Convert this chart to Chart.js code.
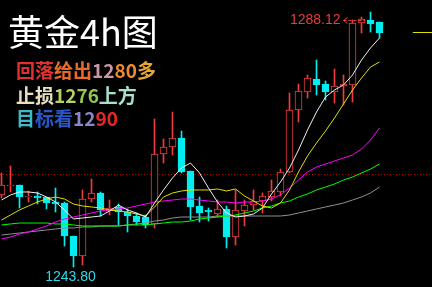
<!DOCTYPE html>
<html>
<head>
<meta charset="utf-8">
<script src="https://cdn.jsdelivr.net/npm/chart.js@4.4.1/dist/chart.umd.min.js"></script>
<style>
  html, body { margin: 0; padding: 0; background: #000; }
  #wrap { position: relative; width: 432px; height: 287px; overflow: hidden; }
  #chart { position: absolute; left: 0; top: 0; }
  #title { position: absolute; left: 8px; top: 12px; font-family: "Noto Sans CJK SC"; font-size: 36px; line-height: 36px; color: #fff; white-space: nowrap; }
  .note { position: absolute; left: 16px; font-family: "Noto Sans CJK SC"; font-size: 19px; line-height: 19px; font-weight: bold; white-space: nowrap; }
</style>
</head>
<body>
<div id="wrap">
  <canvas id="chart" width="432" height="287"></canvas>
  <div id="title">黄金4h图</div>
  <div class="note" style="top:60px"><span style="color:#e03030">回落</span><span style="color:#e86a28">给出</span><span style="color:#c898a8">12</span><span style="color:#f08a30">80</span><span style="color:#e8a838">多</span></div>
  <div class="note" style="top:85px"><span style="color:#e6e0c0">止损</span><span style="color:#b8d060">12</span><span style="color:#90c850">76</span><span style="color:#a8e0d0">上方</span></div>
  <div class="note" style="top:108px"><span style="color:#40b8c8">目</span><span style="color:#2858c8">标看</span><span style="color:#8888c8">12</span><span style="color:#e82828">90</span></div>
</div>
<script>
// 4h candles, oldest first
const opens = [1256.72, 1258.33, 1258.51, 1256.36, 1256.54, 1256.36, 1255.46, 1255.28, 1249.36, 1245.77,
  1256.00, 1257.08, 1253.85, 1254.57, 1253.67, 1252.95, 1252.77, 1251.52, 1264.08, 1265.33,
  1266.95, 1261.03, 1254.75, 1254.03, 1253.31, 1254.21, 1249.18, 1253.85, 1254.92, 1255.64,
  1256.36, 1257.26, 1260.85, 1271.97, 1275.20, 1277.53, 1276.64, 1275.20, 1276.28, 1276.46,
  1287.58, 1288.12, 1287.76];
const highs = [1260.67, 1261.92, 1258.51, 1257.44, 1257.26, 1256.36, 1257.97, 1255.46, 1249.36, 1257.62,
  1259.59, 1257.26, 1255.82, 1255.10, 1254.21, 1253.49, 1253.13, 1270.36, 1266.77, 1271.61,
  1268.20, 1261.03, 1256.36, 1254.39, 1255.82, 1254.75, 1257.62, 1255.82, 1257.62, 1257.08,
  1259.41, 1261.38, 1275.02, 1276.64, 1278.25, 1280.94, 1277.18, 1279.33, 1278.25, 1288.12,
  1288.66, 1289.56, 1287.76];
const lows = [1256.18, 1257.26, 1254.39, 1255.46, 1255.10, 1254.21, 1253.67, 1247.57, 1243.80, 1244.16,
  1255.46, 1252.95, 1253.13, 1251.34, 1250.08, 1251.34, 1250.80, 1250.80, 1262.46, 1263.90,
  1260.67, 1252.23, 1251.87, 1252.05, 1252.77, 1247.21, 1247.75, 1251.16, 1254.03, 1253.49,
  1255.64, 1256.54, 1260.67, 1269.82, 1274.12, 1274.66, 1273.77, 1273.23, 1272.87, 1273.41,
  1285.79, 1285.97, 1284.89];
const closes = [1258.51, 1258.51, 1256.36, 1256.54, 1256.18, 1255.28, 1255.10, 1249.36, 1245.77, 1256.00,
  1257.08, 1254.03, 1254.39, 1253.67, 1252.95, 1251.87, 1251.34, 1264.08, 1265.33, 1266.95,
  1260.85, 1254.57, 1253.49, 1253.67, 1254.21, 1249.18, 1254.03, 1254.92, 1255.64, 1256.54,
  1257.44, 1260.85, 1271.97, 1275.38, 1277.71, 1276.46, 1275.20, 1276.28, 1276.64, 1287.58,
  1288.30, 1287.40, 1285.79];

// moving averages
const maWhite = [1255.82, 1256.72, 1257.26, 1257.26, 1257.08, 1256.36, 1255.46, 1254.03, 1252.41, 1252.59,
  1252.77, 1252.95, 1253.85, 1254.92, 1254.03, 1253.49, 1252.77, 1255.28, 1257.62, 1259.77,
  1261.56, 1262.46, 1260.67, 1257.97, 1255.46, 1253.49, 1252.77, 1252.95, 1253.31, 1254.39,
  1256.90, 1259.05, 1261.56, 1264.79, 1268.38, 1271.61, 1274.30, 1275.56, 1276.46, 1278.25,
  1280.94, 1283.10, 1284.89];
const maYellow = [1252.23, 1253.13, 1254.03, 1254.75, 1255.46, 1256.00, 1256.36, 1256.00, 1255.10, 1254.75,
  1254.57, 1254.39, 1254.03, 1253.85, 1253.67, 1253.31, 1252.95, 1254.57, 1256.36, 1257.08,
  1257.44, 1257.62, 1257.62, 1257.62, 1257.80, 1257.44, 1257.80, 1256.54, 1255.64, 1254.75,
  1254.39, 1255.28, 1257.62, 1260.85, 1263.72, 1266.05, 1268.20, 1270.54, 1273.05, 1275.56,
  1277.71, 1279.69, 1280.59];
const maMagenta = [1248.82, 1249.18, 1249.72, 1250.08, 1250.62, 1251.16, 1251.87, 1252.41, 1252.77, 1253.13,
  1253.49, 1253.85, 1254.03, 1254.21, 1254.39, 1254.75, 1255.10, 1255.46, 1255.64, 1255.82,
  1256.00, 1256.00, 1255.82, 1255.64, 1255.46, 1255.46, 1255.28, 1255.46, 1255.46, 1255.64,
  1256.00, 1256.72, 1257.97, 1259.41, 1260.85, 1261.74, 1262.28, 1262.82, 1263.36, 1263.90,
  1264.97, 1266.59, 1268.74];
const maGreen = [1251.34, 1251.52, 1251.69, 1251.69, 1251.69, 1251.69, 1251.52, 1251.52, 1251.34, 1251.16,
  1251.16, 1251.16, 1251.16, 1251.16, 1251.34, 1251.34, 1251.34, 1251.52, 1251.69, 1251.87,
  1251.87, 1252.05, 1252.41, 1252.59, 1252.77, 1252.95, 1253.13, 1253.49, 1253.85, 1254.39,
  1254.75, 1255.28, 1255.64, 1256.36, 1256.90, 1257.62, 1258.15, 1258.69, 1259.41, 1259.95,
  1260.67, 1261.38, 1262.28];
const maGray = [1249.54, 1249.72, 1249.90, 1250.08, 1250.26, 1250.44, 1250.62, 1250.80, 1250.80, 1250.98,
  1250.98, 1251.16, 1251.16, 1251.16, 1251.34, 1251.52, 1251.69, 1252.05, 1252.23, 1252.59,
  1252.77, 1252.77, 1252.77, 1252.77, 1252.95, 1252.95, 1252.95, 1252.95, 1252.95, 1252.95,
  1252.95, 1252.95, 1253.13, 1253.49, 1253.85, 1254.21, 1254.57, 1254.92, 1255.28, 1255.82,
  1256.36, 1257.08, 1258.15];

const highLabel = 1288.12;
const highIndex = 39;
const lowLabel = 1243.80;
const lowIndex = 8;
const dottedLevel = 1260.49;
const markLevel = 1285.97;
const markFrom = 45.7;

const upColor = "#f03c3c";
const downColor = "#00eef0";
const idx = opens.map((v, i) => i);
const isUp = idx.map(i => closes[i] >= opens[i]);

function lineSet(values, color) {
  return {
    type: "line",
    data: values.map((v, i) => ({ x: i, y: v })),
    borderColor: color,
    borderWidth: 1,
    pointRadius: 0,
    tension: 0,
    order: 0
  };
}

const overlay = {
  id: "overlay",
  beforeDatasetsDraw(c) {
    const ctx = c.ctx, a = c.chartArea;
    const y = Math.round(c.scales.y.getPixelForValue(dottedLevel)) + 0.5;
    ctx.save();
    ctx.strokeStyle = "#b00000";
    ctx.lineWidth = 1;
    ctx.setLineDash([1, 2]);
    ctx.beginPath();
    ctx.moveTo(a.left, y);
    ctx.lineTo(a.right, y);
    ctx.stroke();
    ctx.restore();
  },
  afterDatasetsDraw(c) {
    const ctx = c.ctx, xs = c.scales.x, ys = c.scales.y;
    ctx.save();
    // short yellow level on the right
    let y = Math.round(ys.getPixelForValue(markLevel)) + 0.5;
    ctx.strokeStyle = "#e0e000";
    ctx.lineWidth = 1;
    ctx.beginPath();
    ctx.moveTo(xs.getPixelForValue(markFrom), y);
    ctx.lineTo(c.chartArea.right, y);
    ctx.stroke();

    // high label with arrow
    y = Math.round(ys.getPixelForValue(highLabel)) + 0.5;
    const tx = xs.getPixelForValue(highIndex) - 12;
    ctx.font = "14px 'Liberation Sans', Arial";
    ctx.textBaseline = "middle";
    ctx.textAlign = "right";
    ctx.fillStyle = "#e83c3c";
    ctx.fillText(highLabel.toFixed(2), tx, y);
    ctx.strokeStyle = "#e83c3c";
    ctx.beginPath();
    ctx.moveTo(tx + 7, y - 3);
    ctx.lineTo(tx + 3, y);
    ctx.lineTo(tx + 7, y + 3);
    ctx.stroke();
    ctx.setLineDash([3, 2]);
    ctx.beginPath();
    ctx.moveTo(tx + 3, y);
    ctx.lineTo(xs.getPixelForValue(highIndex + 1) + 4, y);
    ctx.stroke();

    // low label under the lowest bar
    ctx.setLineDash([]);
    ctx.textAlign = "center";
    ctx.fillStyle = "#30d8e8";
    ctx.fillText(lowLabel.toFixed(2), xs.getPixelForValue(lowIndex) - 3, ys.getPixelForValue(lowLabel) + 10);
    ctx.restore();
  }
};

new Chart(document.getElementById("chart"), {
  type: "bar",
  data: {
    datasets: [
      lineSet(maWhite, "#f0f0f0"),
      lineSet(maYellow, "#e0e000"),
      lineSet(maMagenta, "#ff00ff"),
      lineSet(maGreen, "#00ff00"),
      lineSet(maGray, "#909090"),
      {
        data: idx.map(i => ({ x: i, y: [opens[i], closes[i]] })),
        backgroundColor: idx.map(i => isUp[i] ? "#000" : downColor),
        borderColor: idx.map(i => isUp[i] ? upColor : downColor),
        borderWidth: 1,
        borderSkipped: false,
        barThickness: 7,
        grouped: false,
        order: 1
      },
      {
        data: idx.map(i => ({ x: i, y: [lows[i], highs[i]] })),
        backgroundColor: idx.map(i => isUp[i] ? upColor : downColor),
        borderWidth: 0,
        barThickness: 1,
        grouped: false,
        order: 2
      }
    ]
  },
  options: {
    responsive: false,
    animation: false,
    layout: { padding: 0 },
    plugins: { legend: { display: false }, tooltip: { enabled: false } },
    scales: {
      x: { type: "linear", min: -1.5 / 9, max: 430.5 / 9, offset: false, display: false },
      y: { min: 1240.21, max: 1291.71, display: false }
    }
  },
  plugins: [overlay]
});
</script>
</body>
</html>
